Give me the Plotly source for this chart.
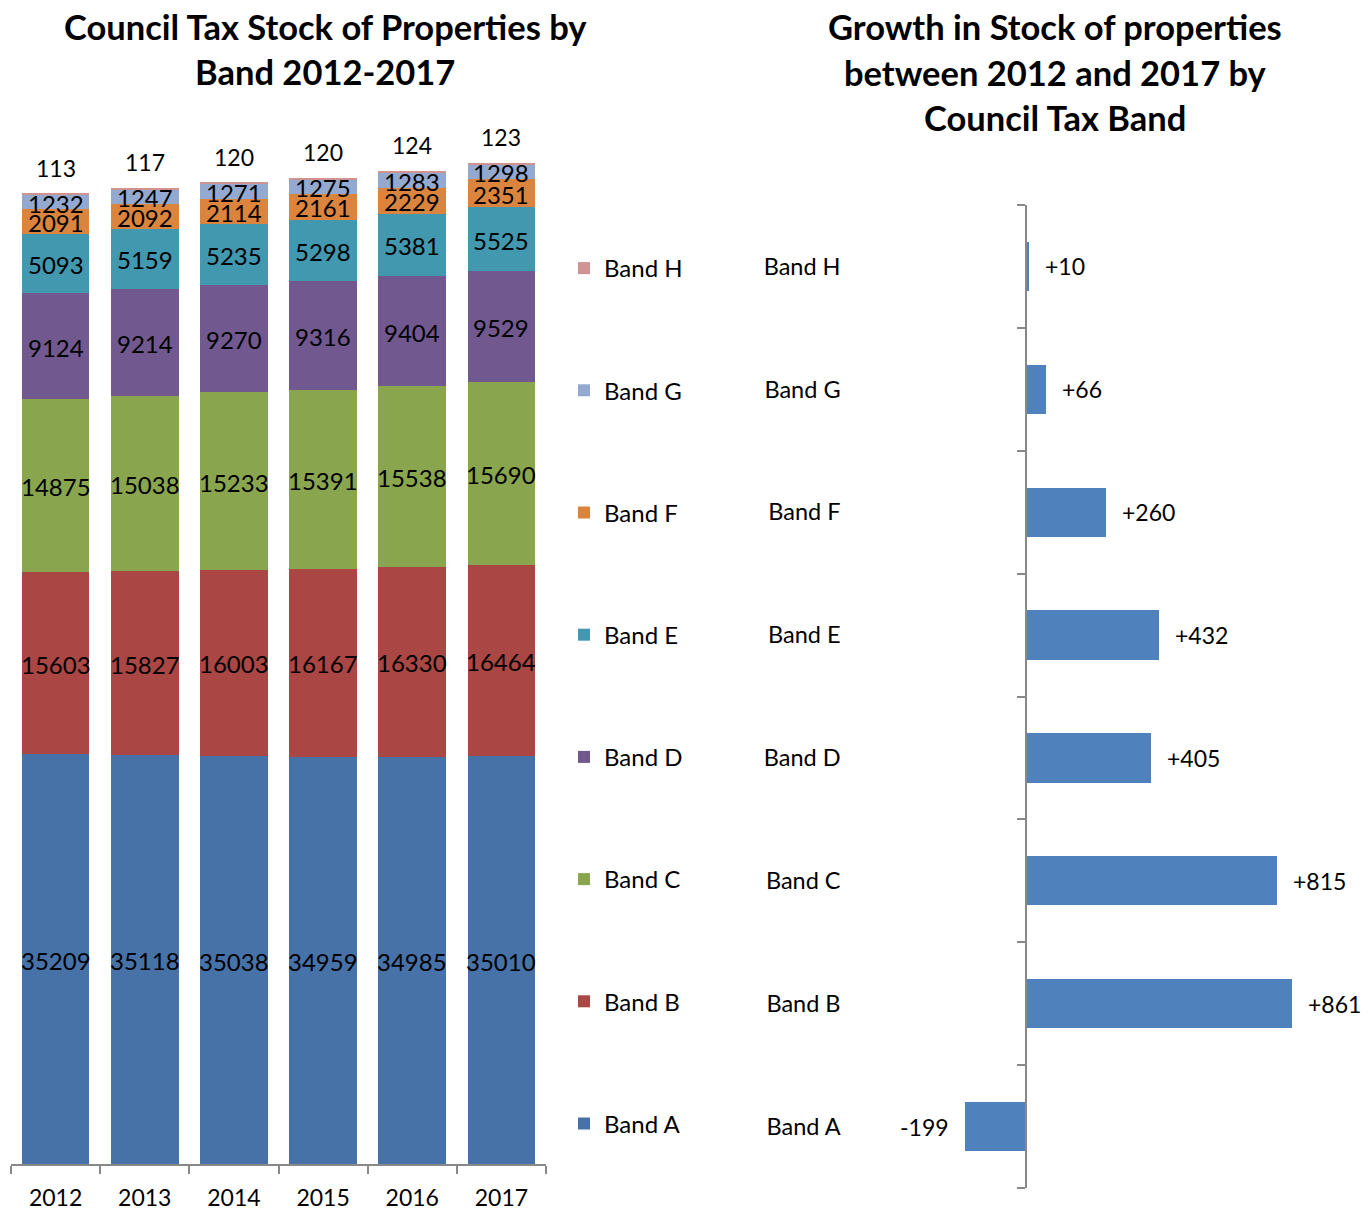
import plotly.graph_objects as go

# ---- data -------------------------------------------------------------
years = ["2012", "2013", "2014", "2015", "2016", "2017"]
bands = ["Band A", "Band B", "Band C", "Band D", "Band E", "Band F", "Band G", "Band H"]

band_a = [35209, 35118, 35038, 34959, 34985, 35010]
band_b = [15603, 15827, 16003, 16167, 16330, 16464]
band_c = [14875, 15038, 15233, 15391, 15538, 15690]
band_d = [9124, 9214, 9270, 9316, 9404, 9529]
band_e = [5093, 5159, 5235, 5298, 5381, 5525]
band_f = [2091, 2092, 2114, 2161, 2229, 2351]
band_g = [1232, 1247, 1271, 1275, 1283, 1298]
band_h = [113, 117, 120, 120, 124, 123]

growth = [-199, 861, 815, 405, 432, 260, 66, 10]  # Band A .. Band H, 2012 -> 2017

band_colors = ["#4672A8", "#AA4643", "#89A54E", "#71588F",
               "#4198AF", "#DB843D", "#93A9CF", "#D19392"]
growth_color = "#4F81BD"

FONT = "Lato, 'Open Sans', sans-serif"
W, H = 1370, 1210
AXIS_GREY = "#888888"


def px_x(p):
    return p / W


def px_y(p):
    return 1 - p / H


fig = go.Figure()

series = [band_a, band_b, band_c, band_d, band_e, band_f, band_g, band_h]
n_years = len(years)

# ---- left: stacked columns --------------------------------------------
for rank, (name, vals, col) in enumerate(zip(bands, series, band_colors)):
    fig.add_trace(go.Bar(
        x=years, y=vals, name=name,
        marker=dict(color=col, line=dict(width=0)),
        textposition="none",
        legendgroup=name, legendrank=len(bands) - rank,
        xaxis="x", yaxis="y",
        hoverinfo="skip",
    ))

# value labels centred in each segment (Band A .. Band G);
# category axes take the category index for annotation positions
base = [0] * n_years
for name, vals in zip(bands[:-1], series[:-1]):
    for i in range(n_years):
        fig.add_annotation(
            x=i, y=base[i] + vals[i] / 2, xref="x", yref="y", text=str(vals[i]),
            showarrow=False, xanchor="center", yanchor="middle", yshift=-1,
            font=dict(family=FONT, size=24, color="black"),
        )
    base = [base[i] + vals[i] for i in range(n_years)]

# Band H count sits above the top of each stack
for i in range(n_years):
    fig.add_annotation(
        x=i, y=base[i] + band_h[i], xref="x", yref="y", text=str(band_h[i]),
        showarrow=False, xanchor="center", yanchor="middle", yshift=26,
        font=dict(family=FONT, size=23, color="black"),
    )

# ---- right: growth bars -----------------------------------------------
fig.add_trace(go.Bar(
    x=growth, y=bands, orientation="h", width=0.4,
    marker=dict(color=growth_color, line=dict(width=0)),
    showlegend=False, xaxis="x2", yaxis="y2", hoverinfo="skip",
))

for band, g in zip(bands, growth):
    fig.add_annotation(
        x=g, y=band, xref="x2", yref="y2", text=f"{g:+d}",
        showarrow=False,
        xanchor="left" if g >= 0 else "right",
        xshift=14 if g >= 0 else -14,
        font=dict(family=FONT, size=23, color="black"),
    )

# right panel geometry: zero line sits at x = 1026 px
x2_range = [-400, 1100]
x2_dom = [px_x(902.6), px_x(1365.4)]
zero_paper = x2_dom[0] + (0 - x2_range[0]) / (x2_range[1] - x2_range[0]) * (x2_dom[1] - x2_dom[0])

# ---- titles -----------------------------------------------------------
titles = [
    ("Council Tax Stock of Properties by", 325, 27),
    ("Band 2012-2017", 325, 72),
    ("Growth in Stock of properties", 1055, 27),
    ("between 2012 and 2017 by", 1055, 73),
    ("Council Tax Band", 1055, 118),
]
for txt, cx, cy in titles:
    fig.add_annotation(
        x=px_x(cx), y=px_y(cy), xref="paper", yref="paper", text=f"<b>{txt}</b>",
        showarrow=False, xanchor="center", yanchor="middle",
        font=dict(family=FONT, size=34.5, color="black"),
    )

fig.update_layout(
    width=W, height=H,
    margin=dict(l=0, r=0, t=0, b=0, autoexpand=False),
    paper_bgcolor="white", plot_bgcolor="white",
    barmode="stack", bargap=0.24,
    font=dict(family=FONT, size=23, color="black"),
    showlegend=True,
    legend=dict(
        x=px_x(564), y=px_y(246), xanchor="left", yanchor="top",
        traceorder="grouped", tracegroupgap=88,
        font=dict(family=FONT, size=24, color="black"),
        bgcolor="rgba(0,0,0,0)",
    ),
    xaxis=dict(
        domain=[px_x(11), px_x(546)], anchor="y",
        type="category", range=[-0.5, 5.5],
        showline=True, linecolor=AXIS_GREY, linewidth=1.5,
        ticks="outside", tickson="boundaries", ticklen=8, tickcolor=AXIS_GREY, tickwidth=1.5,
        ticklabelstandoff=13,
        showgrid=False, zeroline=False,
        tickfont=dict(family=FONT, size=23, color="black"),
    ),
    yaxis=dict(
        domain=[px_y(1164), px_y(1164 - 90000 / 85.9)], anchor="x",
        range=[0, 90000], visible=False, showgrid=False,
    ),
    xaxis2=dict(
        domain=x2_dom, anchor="y2", range=x2_range,
        visible=False, showgrid=False, zeroline=False,
    ),
    yaxis2=dict(
        domain=[px_y(1188), px_y(205)], anchor="free", position=zero_paper,
        type="category", categoryorder="array", categoryarray=bands,
        range=[-0.5, 7.5],
        showline=True, linecolor=AXIS_GREY, linewidth=1.5,
        ticks="outside", tickson="boundaries", ticklen=8, tickcolor=AXIS_GREY, tickwidth=1.5,
        ticklabelstandoff=180,
        showgrid=False, zeroline=False,
        tickfont=dict(family=FONT, size=23.5, color="black"),
    ),
)

fig.write_html("out.html")
